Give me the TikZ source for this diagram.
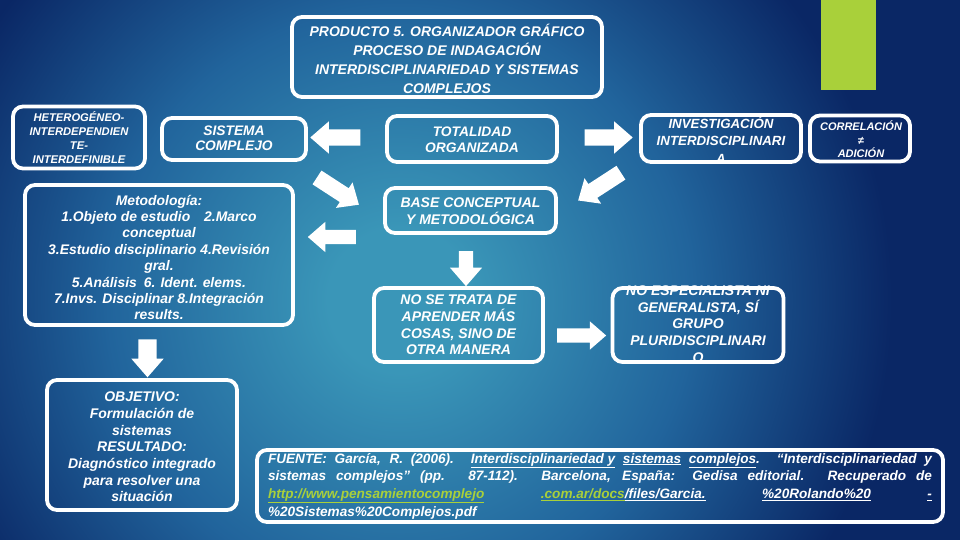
\documentclass[tikz,border=0pt]{standalone}
\usepackage{fontspec}
\setmainfont{Liberation Sans}
\usetikzlibrary{shapes.arrows}
\definecolor{bgA}{HTML}{3A96B8}
\definecolor{bgM}{HTML}{21649C}
\definecolor{bgB}{HTML}{0A2765}
\definecolor{lg}{HTML}{A9D03A}
\pgfdeclareradialshading{bgshade}{\pgfpoint{0bp}{0bp}}{color(0bp)=(bgA); color(1.8bp)=(bgA); color(7.3bp)=(bgM); color(12.3bp)=(bgB); color(50bp)=(bgB)}
\tikzset{
  txt/.style={text=white, font=\bfseries\itshape\fontsize{14}{16.7}\selectfont, align=center, inner sep=0pt},
  frame/.style={draw=white, line width=3.8pt, rounded corners=10pt, inner sep=0pt},
  blk/.style n args={4}{single arrow, fill=white, draw=none, inner xsep=0pt, inner ysep=#3, minimum height=#1, single arrow head extend=#2, single arrow tip angle=82, rotate=#4}
}
\begin{document}
\begin{tikzpicture}[x=1pt, y=-1pt]
\useasboundingbox (0,0) rectangle (960,540);
\fill[bgB] (0,0) rectangle (960,540);
\begin{scope}
\clip (0,0) rectangle (960,540);
\shade[shading=bgshade] (400,300) circle (1000);
\end{scope}
\fill[lg] (821,0) rectangle (876,90);

% texts
\node[txt, font=\bfseries\itshape\fontsize{14}{18.8}\selectfont] (ttitle) at (447,59) {PRODUCTO 5. ORGANIZADOR GRÁFICO\\PROCESO DE INDAGACIÓN\\INTERDISCIPLINARIEDAD Y SISTEMAS\\COMPLEJOS};
\node[txt, font=\bfseries\itshape\fontsize{11.2}{14}\selectfont] (thet) at (79,138) {HETEROGÉNEO-\\INTERDEPENDIEN\\TE-\\INTERDEFINIBLE};
\node[txt, font=\bfseries\itshape\fontsize{13.8}{15.5}\selectfont] (tsis) at (234,138.5) {SISTEMA\\COMPLEJO};
\node[txt, font=\bfseries\itshape\fontsize{13.8}{16}\selectfont] (ttot) at (472,140) {TOTALIDAD\\ORGANIZADA};
\node[txt, font=\bfseries\itshape\fontsize{13.3}{17.5}\selectfont] (tinv) at (721,140) {INVESTIGACIÓN\\INTERDISCIPLINARI\\A};
\node[txt, font=\bfseries\itshape\fontsize{11}{13.5}\selectfont] (tcor) at (861,139.5) {CORRELACIÓN\\≠\\ADICIÓN};
\node[txt, font=\bfseries\itshape\fontsize{13.9}{16.4}\selectfont] (tmet) at (159,257.5) {Metodología:\\1.Objeto de estudio\quad 2.Marco\\conceptual\\3.Estudio disciplinario 4.Revisión\\gral.\\5.Análisis\enspace 6. Ident. elems.\\7.Invs. Disciplinar 8.Integración\\results.};
\node[txt, font=\bfseries\itshape\fontsize{14}{17}\selectfont] (tbase) at (470.5,211) {BASE CONCEPTUAL\\Y METODOLÓGICA};
\node[txt] (tnose) at (458.5,325) {NO SE TRATA DE\\APRENDER MÁS\\COSAS, SINO DE\\OTRA MANERA};
\node[txt] (tnoesp) at (698,324) {NO ESPECIALISTA NI\\GENERALISTA, SÍ\\GRUPO\\PLURIDISCIPLINARI\\O};
\node[txt] (tobj) at (142,447) {OBJETIVO:\\Formulación de\\sistemas\\RESULTADO:\\Diagnóstico integrado\\para resolver una\\situación};
\node[txt, font=\bfseries\itshape\fontsize{13.6}{17.7}\selectfont, align=left] (tfte) at (600,487) {%
\makebox[664pt][s]{FUENTE: García, R. (2006). \underline{Interdisciplinariedad y} \underline{sistemas} \underline{complejos}. “Interdisciplinariedad y}\\
\makebox[664pt][s]{sistemas complejos” (pp. 87-112). Barcelona, España: Gedisa editorial. Recuperado de}\\
\makebox[664pt][s]{{\color{lg}\underline{http://www.pensamientocomplejo}} {\color{lg}\underline{.com.ar/docs}}\underline{/files/Garcia.} \underline{\%20Rolando\%20} \underline{-}}\\
\makebox[664pt][l]{\underline{\%20Sistemas\%20Complejos.pdf}}};

% frames
\node[frame, minimum width=310pt, minimum height=80pt] (title) at (447,57) {};
\node[frame, minimum width=132pt, minimum height=62pt] (het) at (79,137.5) {};
\node[frame, minimum width=144pt, minimum height=42pt] (sis) at (234,139) {};
\node[frame, minimum width=170pt, minimum height=46pt] (tot) at (472,139) {};
\node[frame, minimum width=160pt, minimum height=47pt] (inv) at (721,138.5) {};
\node[frame, minimum width=100pt, minimum height=46pt] (cor) at (860,138.5) {};
\node[frame, minimum width=268pt, minimum height=140pt] (met) at (159,255) {};
\node[frame, minimum width=171pt, minimum height=45pt] (base) at (470.5,210.5) {};
\node[frame, minimum width=169pt, minimum height=74pt] (nose) at (458.5,325) {};
\node[frame, minimum width=171pt, minimum height=74pt] (noesp) at (698,325) {};
\node[frame, minimum width=190pt, minimum height=130pt] (obj) at (142,445) {};
\node[frame, minimum width=686pt, minimum height=72pt] (fte) at (600,486) {};

% block arrows
\node[blk={50pt}{8pt}{8pt}{180}] (a1) at (340,137.5) {};
\node[blk={50pt}{7pt}{8pt}{-33}] (a2) at (334,188.5) {};
\node[blk={48pt}{8pt}{7pt}{180}] (a3) at (336,237) {};
\node[blk={48pt}{8pt}{8pt}{0}] (a4) at (604,137.5) {};
\node[blk={51pt}{7pt}{8pt}{-147}] (a5) at (603.5,184) {};
\node[blk={35pt}{9pt}{7pt}{-90}] (a6) at (466,264.5) {};
\node[blk={49pt}{7pt}{7pt}{0}] (a7) at (577.5,335.5) {};
\node[blk={38pt}{7pt}{9pt}{-90}] (a8) at (147.5,353) {};
\end{tikzpicture}
\end{document}
